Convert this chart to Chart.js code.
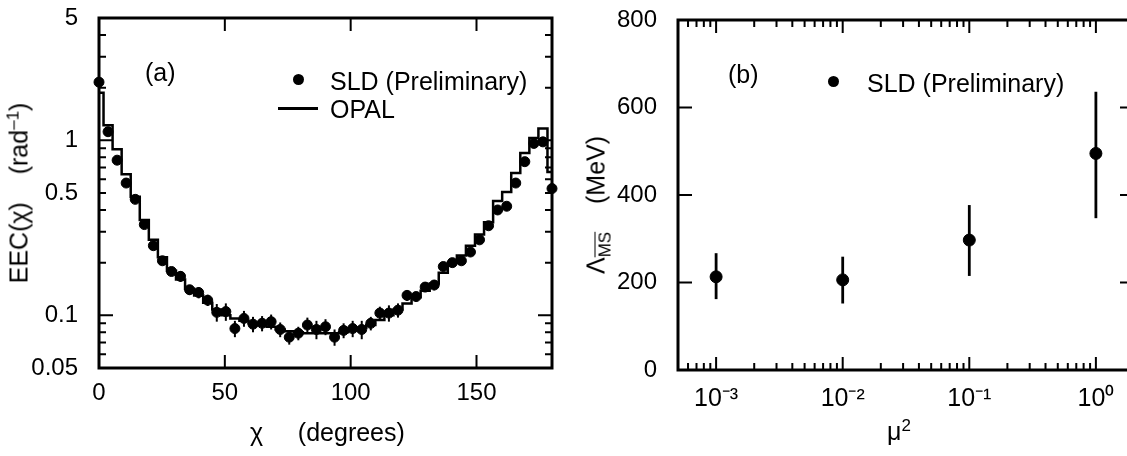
<!DOCTYPE html>
<html lang="en">
<head>
<meta charset="UTF-8">
<title>SLD energy-energy correlation and Lambda MS-bar</title>
<script src="https://cdn.jsdelivr.net/npm/chart.js"></script>
<style>
  body { margin: 0; width: 1127px; height: 456px; overflow: hidden; background: #fff; position: relative;
         font-family: "Liberation Sans", Arial, Helvetica, sans-serif; color: #000; }
  .panel { position: absolute; top: 0; }
  .txt { position: absolute; font-size: 25px; white-space: nowrap; line-height: 1; }
  .rot { transform: translate(-50%, -50%) rotate(-90deg); }
  .dot { position: absolute; width: 11px; height: 11px; border-radius: 50%; background: #000; }
  .dash { position: absolute; width: 40px; height: 3px; background: #000; }
  sup, sub { font-size: 17px; line-height: 0; }
</style>
</head>
<body>

<div class="panel" style="left:0; width:570px; height:456px">
  <canvas id="eecChart" width="570" height="456"></canvas>
</div>
<div class="panel" style="left:588px; width:564px; height:456px">
  <canvas id="lambdaChart" width="564" height="456"></canvas>
</div>

<!-- panel (a) texts -->
<div class="txt" style="left:145px; top:60px">(a)</div>
<div class="dot" style="left:293px; top:74px"></div>
<div class="txt" style="left:330px; top:69px">SLD (Preliminary)</div>
<div class="dash" style="left:278px; top:107px"></div>
<div class="txt" style="left:330px; top:97px">OPAL</div>
<div class="txt rot" style="left:19px; top:193px">EEC(χ)&nbsp;&nbsp;&nbsp;&nbsp;(rad<sup>–1</sup>)</div>
<div class="txt" style="left:250px; top:420px">χ&nbsp;&nbsp;&nbsp;&nbsp;&nbsp;(degrees)</div>

<!-- panel (b) texts -->
<div class="txt" style="left:728px; top:62px">(b)</div>
<div class="dot" style="left:828px; top:76px"></div>
<div class="txt" style="left:867px; top:71px">SLD (Preliminary)</div>
<div class="txt rot" style="left:596px; top:205px">Λ<sub style="text-decoration:overline">MS</sub>&nbsp;&nbsp;&nbsp;&nbsp;(MeV)</div>
<div class="txt" style="left:887px; top:419px">μ<sup>2</sup></div>

<script>
// ---- panel (a): energy-energy correlation ----
const chiDeg = [0, 3.6, 7.2, 10.8, 14.4, 18, 21.6, 25.2, 28.8, 32.4, 36, 39.6, 43.2, 46.8, 50.4, 54, 57.6,
    61.2, 64.8, 68.4, 72, 75.6, 79.2, 82.8, 86.4, 90, 93.6, 97.2, 100.8, 104.4, 108, 111.6, 115.2, 118.8,
    122.4, 126, 129.6, 133.2, 136.8, 140.4, 144, 147.6, 151.2, 154.8, 158.4, 162, 165.6, 169.2, 172.8, 176.4, 180];
const sldEEC = [2.15, 1.12, 0.77, 0.57, 0.46, 0.33, 0.25, 0.205, 0.178, 0.167, 0.14, 0.135, 0.122, 0.104, 0.105, 0.084, 0.096,
    0.089, 0.09, 0.092, 0.083, 0.075, 0.079, 0.088, 0.083, 0.086, 0.075, 0.082, 0.084, 0.083, 0.09, 0.103, 0.103, 0.107,
    0.13, 0.128, 0.145, 0.149, 0.19, 0.2, 0.205, 0.23, 0.27, 0.325, 0.40, 0.42, 0.57, 0.755, 0.96, 0.98, 0.53];
const sldErr = [0.08, 0.05, 0.03, 0.025, 0.02, 0.015, 0.012, 0.011, 0.01, 0.012, 0.009, 0.01, 0.009, 0.012, 0.012, 0.009, 0.01,
    0.009, 0.009, 0.009, 0.008, 0.007, 0.007, 0.009, 0.01, 0.009, 0.008, 0.008, 0.009, 0.01, 0.008, 0.009, 0.011, 0.01,
    0.009, 0.008, 0.009, 0.01, 0.011, 0.01, 0.011, 0.012, 0.014, 0.015, 0.02, 0.02, 0.025, 0.03, 0.04, 0.05, 0.04];
const opalEEC = [1.87, 1.22, 0.89, 0.64, 0.476, 0.35, 0.27, 0.215, 0.18, 0.16, 0.142, 0.13, 0.118, 0.108, 0.1, 0.096, 0.093,
    0.09, 0.088, 0.086, 0.083, 0.081, 0.08, 0.079, 0.079, 0.079, 0.079, 0.08, 0.082, 0.085, 0.088, 0.094, 0.1, 0.108,
    0.117, 0.127, 0.138, 0.152, 0.175, 0.2, 0.22, 0.25, 0.29, 0.34, 0.45, 0.507, 0.65, 0.847, 1.03, 1.17, 0.66];
const chiTicks = [0, 50, 100, 150];
const eecTicks = [0.05, 0.1, 0.5, 1, 5];
const eecMajorMarks = [0.1, 1];
const eecMinorMarks = [0.06, 0.07, 0.08, 0.09, 0.2, 0.3, 0.4, 0.5, 0.6, 0.7, 0.8, 0.9, 2, 3, 4];

// ---- panel (b): Lambda MS-bar vs mu^2 ----
const mu2 = [0.001, 0.01, 0.1, 1];
const lambdaMS = [213, 206, 297, 495];
const lambdaHigh = [267, 259, 377, 636];
const lambdaLow = [162, 152, 215, 347];
const mu2Ticks = [0.001, 0.01, 0.1, 1];
const mu2Labels = ['10⁻³', '10⁻²', '10⁻¹', '10⁰'];
const mu2Minor = [0.0005, 0.0006, 0.0007, 0.0008, 0.0009, 0.002, 0.003, 0.004, 0.005, 0.006, 0.007, 0.008, 0.009,
    0.02, 0.03, 0.04, 0.05, 0.06, 0.07, 0.08, 0.09, 0.2, 0.3, 0.4, 0.5, 0.6, 0.7, 0.8, 0.9, 2];
const lambdaTicks = [0, 200, 400, 600, 800];

const FONT = '"Liberation Sans", Arial, Helvetica, sans-serif';

// frame + inward tick marks, placed through the chart's own scales
const framePlugin = {
    id: 'frame',
    afterDraw(chart, args, opts) {
        const { ctx, chartArea: a, scales } = chart;
        ctx.save();
        ctx.strokeStyle = '#000';
        const marks = (scale, vals, len, w) => {
            ctx.lineWidth = w;
            vals.forEach(v => {
                const p = scale.getPixelForValue(v);
                ctx.beginPath();
                if (scale.isHorizontal()) {
                    ctx.moveTo(p, a.bottom); ctx.lineTo(p, a.bottom - len);
                    ctx.moveTo(p, a.top); ctx.lineTo(p, a.top + len);
                } else {
                    ctx.moveTo(a.left, p); ctx.lineTo(a.left + len, p);
                    ctx.moveTo(a.right, p); ctx.lineTo(a.right - len, p);
                }
                ctx.stroke();
            });
        };
        marks(scales.x, opts.xMajor, 13, 2);
        marks(scales.x, opts.xMinor, 7, 2);
        marks(scales.y, opts.yMajor, 14, 2);
        marks(scales.y, opts.yMinor, 7, 2);
        ctx.lineWidth = 3;
        ctx.strokeRect(a.left, a.top, a.right - a.left, a.bottom - a.top);
        ctx.restore();
    }
};

// vertical error bars from low/high arrays
const errorBarPlugin = {
    id: 'errbars',
    beforeDatasetsDraw(chart, args, opts) {
        const { ctx, scales: { x, y } } = chart;
        ctx.save();
        ctx.strokeStyle = '#000';
        ctx.lineWidth = opts.width;
        opts.xs.forEach((xv, i) => {
            const px = x.getPixelForValue(xv);
            ctx.beginPath();
            ctx.moveTo(px, y.getPixelForValue(opts.low[i]));
            ctx.lineTo(px, y.getPixelForValue(opts.high[i]));
            ctx.stroke();
        });
        ctx.restore();
    }
};

const tickFont = { family: FONT, size: 24 };
// keep tick labels from pushing the plot area around
const noPad = s => { s.paddingTop = 0; s.paddingBottom = 0; s.paddingLeft = 0; s.paddingRight = 0; };

new Chart(document.getElementById('eecChart'), {
    type: 'scatter',
    data: {
        datasets: [{
            label: 'SLD (Preliminary)',
            data: chiDeg.map((c, i) => ({ x: c, y: sldEEC[i] })),
            backgroundColor: '#000',
            borderColor: '#000',
            pointRadius: 5,
            clip: 8
        }, {
            label: 'OPAL',
            data: chiDeg.map((c, i) => ({ x: c, y: opalEEC[i] })),
            showLine: true,
            stepped: 'middle',
            borderColor: '#000',
            borderWidth: 2.5,
            pointRadius: 0,
            fill: false
        }]
    },
    options: {
        responsive: false,
        animation: false,
        layout: { padding: { top: 18, right: 18, left: 0, bottom: 0 } },
        plugins: {
            legend: { display: false },
            tooltip: { enabled: false },
            frame: { xMajor: chiTicks.slice(1), xMinor: [], yMajor: eecMajorMarks, yMinor: eecMinorMarks },
            errbars: {
                xs: chiDeg, width: 2,
                low: sldEEC.map((v, i) => v - sldErr[i]),
                high: sldEEC.map((v, i) => v + sldErr[i])
            }
        },
        scales: {
            x: {
                type: 'linear', min: 0, max: 180,
                grid: { display: false }, border: { display: false },
                afterBuildTicks: s => { s.ticks = chiTicks.map(v => ({ value: v })); },
                afterFit: s => { s.height = 88; noPad(s); },
                ticks: { color: '#000', font: tickFont, padding: 3, maxRotation: 0, autoSkip: false }
            },
            y: {
                type: 'logarithmic', min: 0.05, max: 5,
                grid: { display: false }, border: { display: false },
                afterBuildTicks: s => { s.ticks = eecTicks.map(v => ({ value: v })); },
                afterFit: s => { s.width = 99; noPad(s); },
                ticks: { color: '#000', font: tickFont, padding: 13, autoSkip: false, callback: v => String(v) }
            }
        }
    },
    plugins: [errorBarPlugin, framePlugin]
});

new Chart(document.getElementById('lambdaChart'), {
    type: 'scatter',
    data: {
        datasets: [{
            label: 'SLD (Preliminary)',
            data: mu2.map((m, i) => ({ x: m, y: lambdaMS[i] })),
            backgroundColor: '#000',
            borderColor: '#000',
            pointRadius: 6
        }]
    },
    options: {
        responsive: false,
        animation: false,
        layout: { padding: { top: 20, right: 18, left: 0, bottom: 0 } },
        plugins: {
            legend: { display: false },
            tooltip: { enabled: false },
            frame: { xMajor: mu2Ticks, xMinor: mu2Minor, yMajor: lambdaTicks.slice(1, -1), yMinor: [] },
            errbars: { xs: mu2, width: 2.8, low: lambdaLow, high: lambdaHigh }
        },
        scales: {
            x: {
                type: 'logarithmic', min: 0.0005, max: 2,
                grid: { display: false }, border: { display: false },
                afterBuildTicks: s => { s.ticks = mu2Ticks.map(v => ({ value: v })); },
                afterFit: s => { s.height = 86; noPad(s); },
                ticks: { color: '#000', font: { family: FONT, size: 25 }, padding: 6, maxRotation: 0, autoSkip: false,
                         callback: (v, i) => mu2Labels[i] }
            },
            y: {
                type: 'linear', min: 0, max: 800,
                grid: { display: false }, border: { display: false },
                afterBuildTicks: s => { s.ticks = lambdaTicks.map(v => ({ value: v })); },
                afterFit: s => { s.width = 90; noPad(s); },
                ticks: { color: '#000', font: tickFont, padding: 13, autoSkip: false }
            }
        }
    },
    plugins: [errorBarPlugin, framePlugin]
});
</script>
</body>
</html>
